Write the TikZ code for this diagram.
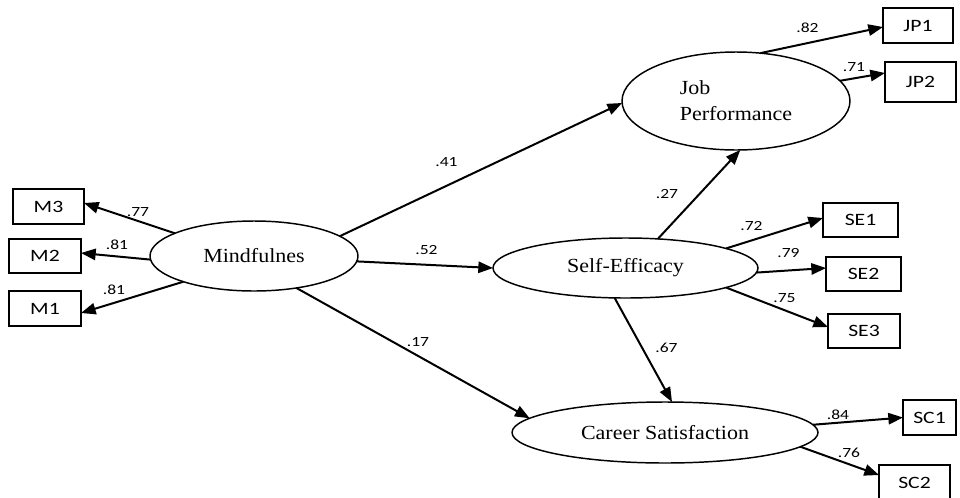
\documentclass[tikz,border=0pt]{standalone}
\usepackage{fontspec}
\newfontfamily\latfont[FakeStretch=1.1]{Liberation Serif}
\newfontfamily\indfont[FakeStretch=1.25]{Carlito}
\usetikzlibrary{arrows.meta,calc,shapes.geometric}
\begin{document}
\begin{tikzpicture}[x=0.75pt,y=-0.75pt,
 latent/.style={ellipse,draw,line width=1.1pt,inner sep=0pt,outer sep=0pt,font=\latfont\fontsize{15}{19.5}\selectfont},
 ind/.style={rectangle,draw,line width=0.8pt,inner sep=0pt,outer sep=0pt,font=\indfont\fontsize{13}{15}\selectfont},
 arr/.style={-{Triangle[length=11pt,width=8.5pt]},line width=1.5pt},
 coef/.style={inner sep=0pt,font=\indfont\fontsize{10.5}{12}\selectfont}]
\clip (0,0) rectangle (960,497);
\fill[white] (0,0) rectangle (960,497);
% latent variables
\node[latent,minimum width=156pt,minimum height=52.5pt] (mind) at (254,256) {Mindfulnes};
\node[latent,minimum width=171pt,minimum height=73.5pt,align=left] (jp) at (736,101) {Job\\Performance};
\node[latent,minimum width=198.75pt,minimum height=45pt] (se) at (625.5,268) {Self-Efficacy};
\node[latent,minimum width=229.5pt,minimum height=45.75pt] (cs) at (665,432.5) {Career Satisfaction};
% indicators
\node[ind,minimum width=53.25pt,minimum height=26.25pt] (M3) at (48.5,206.5) {M3};
\node[ind,minimum width=54pt,minimum height=25.5pt] (M2) at (45,256) {M2};
\node[ind,minimum width=54pt,minimum height=26.25pt] (M1) at (45,308.5) {M1};
\node[ind,minimum width=52.5pt,minimum height=26.25pt] (JP1) at (918,25.5) {JP1};
\node[ind,minimum width=53.25pt,minimum height=30pt] (JP2) at (920.5,82) {JP2};
\node[ind,minimum width=56.25pt,minimum height=25.5pt] (SE1) at (860.5,220) {SE1};
\node[ind,minimum width=56.25pt,minimum height=25.5pt] (SE2) at (863.5,274) {SE2};
\node[ind,minimum width=54pt,minimum height=25.5pt] (SE3) at (864,331) {SE3};
\node[ind,minimum width=39.75pt,minimum height=26.25pt] (SC1) at (929.5,417.5) {SC1};
\node[ind,minimum width=53.25pt,minimum height=26.25pt] (SC2) at (914.5,482.5) {SC2};
% loadings
\draw[arr] (mind.164.3) -- ($(M3.east)+(0,-3.5)$);
\draw[arr] (mind.182) -- ($(M2.east)+(0,-3)$);
\draw[arr] (mind.200.2) -- ($(M1.east)+(0,4.5)$);
\draw[arr] (jp.63.4) -- ($(JP1.west)+(0,1.5)$);
\draw[arr] (jp.11.4) -- ($(JP2.west)+(0,-9)$);
\draw[arr] (se.11.3) -- ($(SE1.west)+(0,-2)$);
\draw[arr] (se.-2.2) -- ($(SE2.west)+(0,-6)$);
\draw[arr] (se.-11.5) -- ($(SE3.west)+(0,-4)$);
\draw[arr] (cs.3.4) -- (SC1.west);
\draw[arr] (cs.-6.8) -- ($(SC2.west)+(0,-7.5)$);
% structural paths
\draw[arr] (mind.13.7) -- (jp.181);
\draw[arr] (mind.-3) -- (se.180);
\draw[arr] (mind.-37.3) -- (cs.174.4);
\draw[arr] (se.42) -- (jp.275);
\draw[arr] (se.250.6) -- (cs.77);
% coefficients
\node[coef] (c1) at (138,212) {.77};
\node[coef] (c2) at (117,245) {.81};
\node[coef] (c3) at (114,290) {.81};
\node[coef] (c4) at (446.5,162) {.41};
\node[coef] (c5) at (426.5,250) {.52};
\node[coef] (c6) at (418,342) {.17};
\node[coef] (c7) at (807.5,28) {.82};
\node[coef] (c8) at (854,67.5) {.71};
\node[coef] (c9) at (667,194) {.27};
\node[coef] (c10) at (751.5,226.5) {.72};
\node[coef] (c11) at (788.5,253) {.79};
\node[coef] (c12) at (784.5,298) {.75};
\node[coef] (c13) at (666.5,348) {.67};
\node[coef] (c14) at (838,415) {.84};
\node[coef] (c15) at (849,452.5) {.76};
\end{tikzpicture}
\end{document}
